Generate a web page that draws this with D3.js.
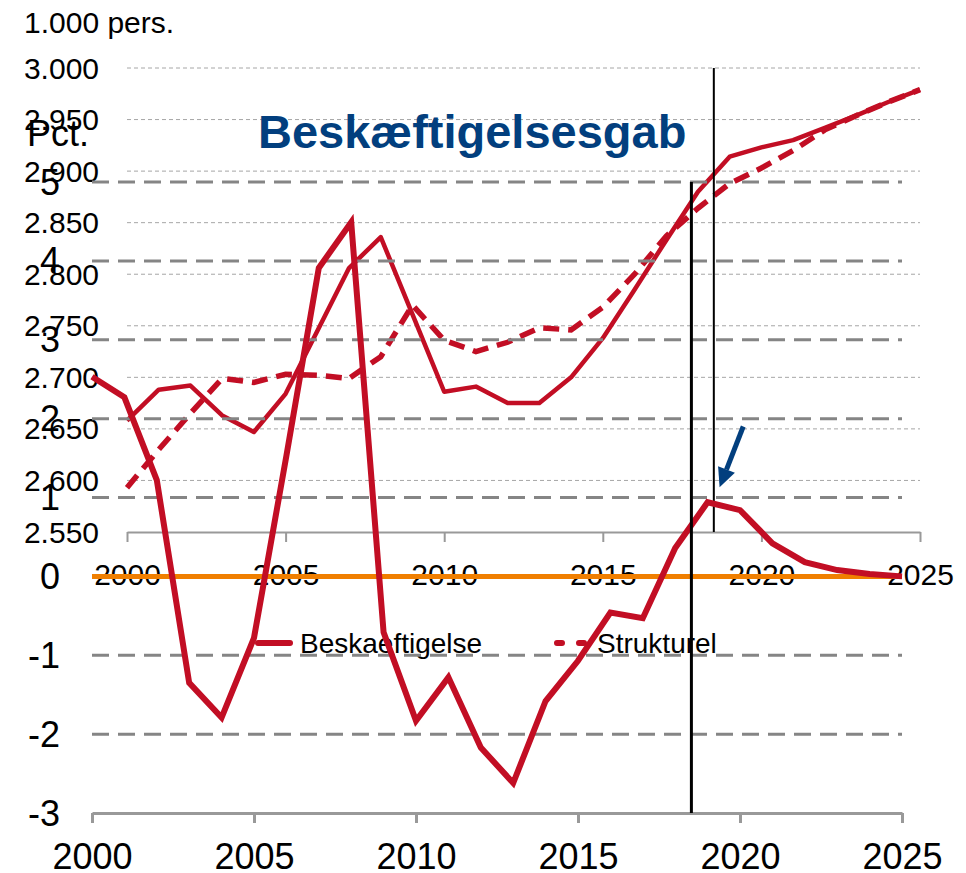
<!DOCTYPE html>
<html>
<head>
<meta charset="utf-8" />
<title>Beskæftigelsesgab</title>
<script src="https://cdnjs.cloudflare.com/ajax/libs/d3/7.8.5/d3.min.js"></script>
<style>
body { margin: 0; background: #fff; }
text { font-family: "Liberation Sans", Arial, sans-serif; fill: #000; }
</style>
</head>
<body>
<svg id="chart" width="966" height="873"></svg>
<script>
// back chart: employment, 1.000 persons
const years = d3.range(2000, 2026);
const beskaeftigelse = [2658, 2688, 2692, 2663, 2647, 2684, 2745, 2806, 2836, 2761, 2686, 2691, 2675,
	2675, 2700, 2738, 2785, 2833, 2880, 2914, 2923, 2930, 2942, 2954, 2967, 2979];
const strukturel = [2593, 2630, 2665, 2699, 2695, 2703, 2702, 2699, 2720, 2770, 2736, 2725, 2734,
	2748, 2746, 2768, 2800, 2837, 2864, 2888, 2903, 2920, 2940, 2954, 2967, 2979];
const persTicks = [2550, 2600, 2650, 2700, 2750, 2800, 2850, 2900, 2950, 3000];

// front chart: employment gap, pct.
const gab = [2.53, 2.27, 1.22, -1.35, -1.79, -0.78, 1.53, 3.91, 4.49, -0.71, -1.83, -1.28, -2.17,
	-2.62, -1.58, -1.07, -0.46, -0.53, 0.36, 0.94, 0.84, 0.42, 0.18, 0.08, 0.03, 0.0];
const pctTicks = [-3, -2, -1, 0, 1, 2, 3, 4, 5];
const yearTicks = [2000, 2005, 2010, 2015, 2020, 2025];
const markYear = 2018.5;

const red = "#c20e24";
const svg = d3.select("#chart");

// ---------- back chart ----------
let x1 = d3.scaleLinear().domain([2000, 2025]).range([127, 920]);
let y1 = d3.scaleLinear().domain([2550, 3000]).range([532, 68]);
let back = svg.append("g");

back.selectAll(".grid1")
	.data(persTicks.slice(1))
	.enter().append("line")
	.attr("x1", x1(2000)).attr("x2", x1(2025))
	.attr("y1", d => y1(d)).attr("y2", d => y1(d))
	.attr("stroke", "#a6a6a6").attr("stroke-width", 1)
	.attr("stroke-dasharray", "4,3");

let ax1 = back.append("g")
	.attr("transform", "translate(0," + y1(2550) + ")")
	.call(d3.axisBottom(x1).tickValues(yearTicks).tickSize(10).tickSizeOuter(0).tickFormat(d3.format("d")));
ax1.select(".domain").attr("stroke", "#999").attr("stroke-width", 2);
ax1.selectAll(".tick line").attr("stroke", "#999").attr("stroke-width", 2);
ax1.selectAll(".tick text").attr("y", 0).attr("dy", 53)
	.style("font-size", "30px").style("font-family", "'Liberation Sans', Arial, sans-serif").attr("fill", "#000");

back.selectAll(".ylab1")
	.data(persTicks)
	.enter().append("text")
	.attr("x", 99).attr("y", d => y1(d)).attr("dy", "0.35em")
	.attr("text-anchor", "end").style("font-size", "30px")
	.text(d => d3.format(".3f")(d / 1000));

back.append("text").attr("x", 24).attr("y", 33).style("font-size", "30px").text("1.000 pers.");

let line1 = d3.line().x((d, i) => x1(years[i])).y(d => y1(d));
back.append("path").datum(beskaeftigelse)
	.attr("d", line1).attr("fill", "none").attr("stroke", red)
	.attr("stroke-width", 4.5).attr("stroke-linejoin", "round");
back.append("path").datum(strukturel)
	.attr("d", line1).attr("fill", "none").attr("stroke", red)
	.attr("stroke-width", 5.5).attr("stroke-dasharray", "16,9");

back.append("line")
	.attr("x1", x1(markYear)).attr("x2", x1(markYear))
	.attr("y1", y1(3000)).attr("y2", y1(2550))
	.attr("stroke", "#000").attr("stroke-width", 2);

// legend
back.append("line").attr("x1", 258).attr("x2", 290).attr("y1", 643).attr("y2", 643)
	.attr("stroke", red).attr("stroke-width", 6).attr("stroke-linecap", "round");
back.append("text").attr("x", 300).attr("y", 653).style("font-size", "28px").text("Beskaeftigelse");
back.append("line").attr("x1", 557).attr("x2", 587).attr("y1", 643).attr("y2", 643)
	.attr("stroke", red).attr("stroke-width", 6).attr("stroke-linecap", "round")
	.attr("stroke-dasharray", "5,17");
back.append("text").attr("x", 597).attr("y", 653).style("font-size", "28px").text("Strukturel");

// ---------- front chart ----------
let x2 = d3.scaleLinear().domain([2000, 2025]).range([92, 902]);
let y2 = d3.scaleLinear().domain([-3, 5]).range([813, 182]);
let front = svg.append("g");

front.selectAll(".grid2")
	.data(pctTicks.filter(d => d != 0 && d != -3))
	.enter().append("line")
	.attr("x1", x2(2000)).attr("x2", x2(2025))
	.attr("y1", d => y2(d)).attr("y2", d => y2(d))
	.attr("stroke", "#858585").attr("stroke-width", 3)
	.attr("stroke-dasharray", "17,9");

front.append("line")
	.attr("x1", x2(2000)).attr("x2", x2(2025))
	.attr("y1", y2(0)).attr("y2", y2(0))
	.attr("stroke", "#f07f00").attr("stroke-width", 5);

let ax2 = front.append("g")
	.attr("transform", "translate(0," + y2(-3) + ")")
	.call(d3.axisBottom(x2).tickValues(yearTicks).tickSize(10).tickSizeOuter(0).tickFormat(d3.format("d")));
ax2.select(".domain").attr("stroke", "#999").attr("stroke-width", 3);
ax2.selectAll(".tick line").attr("stroke", "#999").attr("stroke-width", 3);
ax2.selectAll(".tick text").attr("y", 0).attr("dy", 56)
	.style("font-size", "36px").style("font-family", "'Liberation Sans', Arial, sans-serif").attr("fill", "#000");

front.selectAll(".ylab2")
	.data(pctTicks)
	.enter().append("text")
	.attr("x", 60).attr("y", d => y2(d)).attr("dy", "0.35em")
	.attr("text-anchor", "end").style("font-size", "36px")
	.text(d => d);

front.append("text").attr("x", 27).attr("y", 146).style("font-size", "36px").text("Pct.");

let line2 = d3.line().x((d, i) => x2(years[i])).y(d => y2(d));
front.append("path").datum(gab)
	.attr("d", line2).attr("fill", "none").attr("stroke", red)
	.attr("stroke-width", 6).attr("stroke-linejoin", "miter");

front.append("line")
	.attr("x1", x2(markYear)).attr("x2", x2(markYear))
	.attr("y1", y2(5)).attr("y2", y2(-3))
	.attr("stroke", "#000").attr("stroke-width", 3);

front.append("text").attr("x", 258).attr("y", 148)
	.style("font-size", "47px").style("font-weight", "bold").style("fill", "#023f7e")
	.text("Beskæftigelsesgab");

// arrow towards the 2019 gap
let a0 = [x2(2020.1), y2(1.9)], a1 = [x2(2019.37), y2(1.13)];
let ang = Math.atan2(a1[1] - a0[1], a1[0] - a0[0]);
let headLen = 19, headW = 9;
let base = [a1[0] - headLen * Math.cos(ang), a1[1] - headLen * Math.sin(ang)];
front.append("line")
	.attr("x1", a0[0]).attr("y1", a0[1]).attr("x2", base[0]).attr("y2", base[1])
	.attr("stroke", "#023f7e").attr("stroke-width", 5);
front.append("path")
	.attr("d", "M" + a1 + "L" + [base[0] + headW * Math.sin(ang), base[1] - headW * Math.cos(ang)]
		+ "L" + [base[0] - headW * Math.sin(ang), base[1] + headW * Math.cos(ang)] + "Z")
	.attr("fill", "#023f7e");
</script>
</body>
</html>
